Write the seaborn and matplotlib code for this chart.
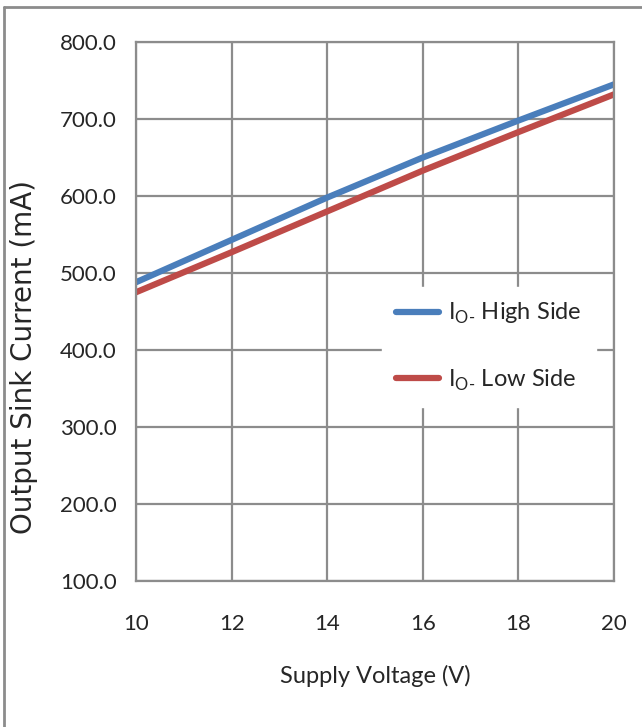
import pandas as pd
import seaborn as sns
import matplotlib.pyplot as plt
from matplotlib.lines import Line2D

# -------------------------
# Data
# -------------------------
supply_voltage = [10, 12, 14, 16, 18, 20]
high_side = [488, 543, 598, 650, 698, 745]
low_side = [475, 527, 580, 633, 683, 732]
series_names = [r"I$_{\mathregular{O}\text{-}}$ High Side", r"I$_{\mathregular{O}\text{-}}$ Low Side"]
y_ticks = [100, 200, 300, 400, 500, 600, 700, 800]
x_ticks = [10, 12, 14, 16, 18, 20]

df = pd.DataFrame({
    "voltage": supply_voltage * 2,
    "current": high_side + low_side,
    "series": [series_names[0]] * len(high_side) + [series_names[1]] * len(low_side),
})

sns.set_style("white")
plt.rcParams["font.family"] = ["Lato", "DejaVu Sans"]
plt.rcParams["mathtext.fontset"] = "custom"
plt.rcParams["mathtext.rm"] = "Lato"

grid_col = "#8c8c8c"

fig = plt.figure(figsize=(6.42, 7.27), dpi=100)
ax = fig.add_axes([136 / 642, 1 - 581 / 727, (614 - 136) / 642, (581 - 42) / 727])

sns.lineplot(data=df, x="voltage", y="current", hue="series",
             palette=["#4a7ebb", "#be4b48"], linewidth=4.5, ax=ax, legend=False)

ax.set_xlim(10, 20)
ax.set_ylim(100, 800)
ax.set_xticks(x_ticks)
ax.set_yticks(y_ticks)
ax.set_yticklabels([f"{v:.1f}" for v in y_ticks])
ax.grid(True, color=grid_col, linewidth=1.6)
ax.set_axisbelow(True)
for s in ax.spines.values():
    s.set_color(grid_col)
    s.set_linewidth(1.6)
ax.tick_params(axis="both", direction="out", length=7, width=1.6, color=grid_col,
               labelsize=16, pad=7)
ax.tick_params(axis="x", pad=17)

ax.set_xlabel("Supply Voltage (V)", fontsize=17)
ax.xaxis.set_label_coords(0.5, -0.155)
ax.set_ylabel("Output Sink Current (mA)", fontsize=20, family="DejaVu Sans")
ax.yaxis.set_label_coords(-0.205, 0.415)

handles = [Line2D([0], [0], color="#4a7ebb", lw=4.5),
           Line2D([0], [0], color="#be4b48", lw=4.5)]
leg = ax.legend(handles, series_names, loc="center left", bbox_to_anchor=(0.49, 0.434),
                frameon=True, fontsize=17, handlelength=1.8, handletextpad=0.4,
                labelspacing=1.75, borderpad=0.6, fancybox=False)
leg.get_frame().set_edgecolor("white")
leg.get_frame().set_facecolor("white")
leg.get_frame().set_alpha(1)

# outer chart border (left and top edges only visible)
fig.add_artist(Line2D([4 / 642, 4 / 642], [0, 1 - 7 / 727], color=grid_col, lw=2,
                      transform=fig.transFigure))
fig.add_artist(Line2D([4 / 642, 1], [1 - 7 / 727, 1 - 7 / 727], color=grid_col, lw=2,
                      transform=fig.transFigure))

fig.savefig("out.png", dpi=100)
